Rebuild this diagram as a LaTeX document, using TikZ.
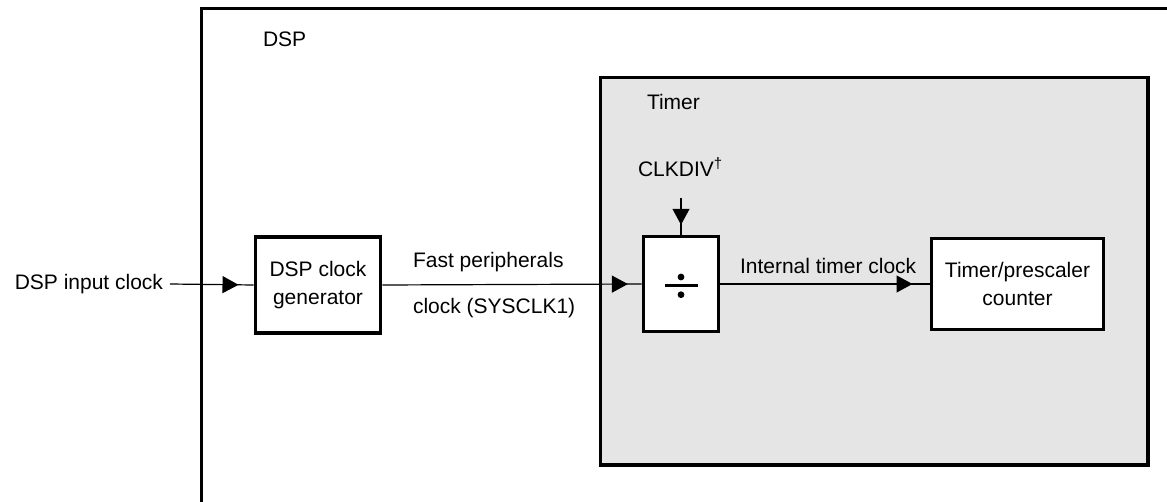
\documentclass[tikz,border=0pt]{standalone}
\usepackage{fontspec}
\setmainfont{Liberation Sans}
\usetikzlibrary{arrows.meta,decorations.markings}
\definecolor{timerfill}{RGB}{229,229,229}
\tikzset{
  blk/.style={draw, line width=3.6pt, fill=white, inner sep=0pt},
  wire/.style={line width=1.2pt},
  lbl/.style={inner sep=0pt, outer sep=0pt},
  mid arrow/.style={postaction={decorate}, decoration={markings,
      mark=at position -#1pt with {\arrow{Triangle[length=16pt,width=17pt]}}}},
}
\begin{document}
\begin{tikzpicture}[x=1pt, y=-1pt, font=\fontsize{21}{28}\selectfont]
  \clip (0,0) rectangle (1167,502);

  % DSP enclosure (runs past the right and lower edges)
  \draw[line width=3.6pt] (201.5,560) |- (1230,8.7) -- (1230,560);
  \node[lbl, anchor=base west] (dsplbl) at (263,47) {DSP};

  % Timer module
  \draw[line width=3.6pt, fill=timerfill] (600.5,77.5) rectangle (1148,465);
  \node[lbl, anchor=base west] (timerlbl) at (647,110) {Timer};

  % Blocks
  \node[blk, minimum width=125pt, minimum height=96pt, align=center] (gen) at (318,285)
    {DSP clock\\generator};
  \node[blk, minimum width=75pt, minimum height=95pt] (div) at (681,284) {};
  \node[blk, minimum width=172pt, minimum height=91pt, align=center] (cnt) at (1017.5,284)
    {Timer/prescaler\\counter};

  % Divide sign
  \fill ([xshift=-16pt,yshift=-2.85pt]div.center) rectangle ([xshift=17pt,yshift=-0.15pt]div.center);
  \fill ([yshift=-10.7pt]div.center) circle (3.4pt);
  \fill ([yshift=7pt]div.center) circle (3.4pt);

  % Input clock
  \node[lbl, inner xsep=7pt, anchor=east] (in) at (170,284) {DSP input clock};
  \draw[wire, mid arrow=15.2] (in.east) -- (gen.west);

  % Fast peripherals clock
  \draw[wire, mid arrow=13.8] (gen.east) -- (div.west);
  \node[lbl, anchor=base west] (fp1) at (413,268) {Fast peripherals};
  \node[lbl, anchor=base west] (fp2) at (413,314) {clock (SYSCLK1)};

  % Divider control
  \node[lbl, anchor=base west] (clkdiv) at (638,177)
    {CLKDIV\raisebox{8pt}{\fontsize{15}{15}\selectfont\textdagger}};
  \coordinate (clkin) at (681,198.3);
  \draw[wire, mid arrow=9.9] (clkin) -- (div.north);

  % Internal timer clock
  \draw[wire, mid arrow=17.2] (div.east) -- (cnt.west);
  \node[lbl, anchor=base west] (itc) at (740,274) {Internal timer clock};
\end{tikzpicture}
\end{document}
